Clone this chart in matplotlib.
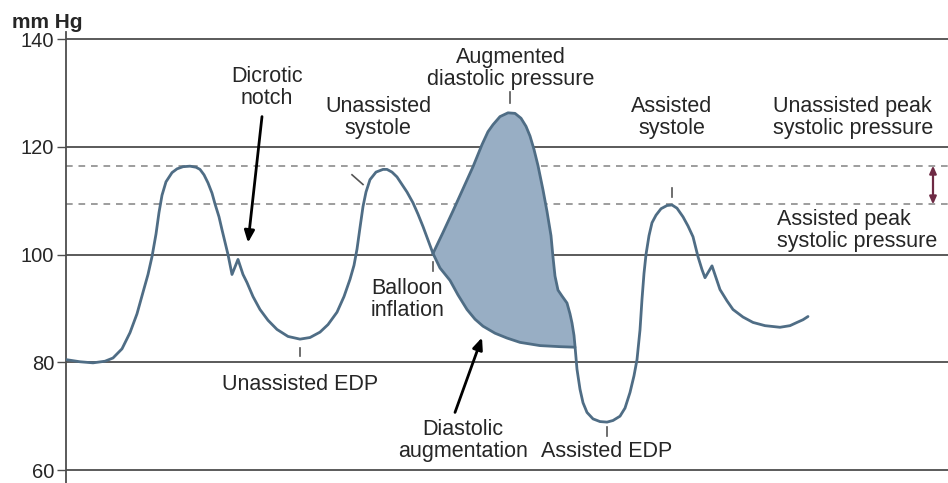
"""
Intra-aortic balloon pump waveform: unassisted vs assisted beats.
Values traced by eye from the reference (x in arbitrary time units).
"""

import numpy as np
import matplotlib
matplotlib.use("Agg")
import matplotlib.pyplot as plt

plt.rcParams['font.family'] = ['Liberation Sans', 'DejaVu Sans']

#---------------------------------------------------
# traced pressure curve (mm Hg)
# unassisted beats up to balloon inflation
t_unassist = [0, 14, 27, 39, 47, 56, 64, 71, 77, 82, 86, 90, 93, 96, 100, 106,
              111, 117, 124, 130, 134, 138, 142, 146, 149, 153, 156, 162, 166,
              172, 177, 181, 187, 194, 202, 211, 222, 234, 244, 254, 262, 271,
              278, 284, 288, 291, 294, 297, 300, 304, 310, 317, 321, 326, 331,
              336, 341, 347, 352, 357, 362, 367]
p_unassist = [80.5, 80.1, 79.9, 80.2, 80.8, 82.5, 85.5, 89, 93, 96.3, 99.6,
              103.8, 107.8, 111, 113.5, 115.2, 115.9, 116.3, 116.4, 116.2, 115.8,
              114.8, 113.3, 111.4, 109.4, 107, 104.6, 100, 96.3, 99.1, 96.3,
              94.8, 92.2, 89.8, 87.8, 86.1, 84.8, 84.3, 84.6, 85.6, 87, 89.3,
              92.2, 95.4, 98, 101, 105, 108.9, 111.6, 113.9, 115.3, 115.8,
              115.8, 115.3, 114.4, 113, 111.6, 109.6, 107.5, 105.2, 102.7, 100.2]

# augmented diastole after inflation, assisted EDP and assisted beat
t_assist = [367, 377, 387, 397, 407, 416, 422, 427, 434, 442, 449, 455, 460,
            464, 468, 472, 477, 481, 485, 487, 489, 492, 496, 501, 504, 506,
            508, 509, 511, 514, 517, 521, 527, 534, 541, 547, 554, 559, 564,
            568, 571, 574, 576, 578, 580, 583, 586, 590, 595, 601, 606, 611,
            617, 622, 627, 632, 636, 639, 646, 650, 654, 661, 667, 677, 687,
            699, 714, 724, 731, 737, 742]
p_assist = [100.2, 104.1, 108.1, 112.2, 116.3, 120.4, 122.8, 124.1, 125.6,
            126.3, 126.2, 125.3, 123.8, 122, 119.5, 116.5, 112, 108, 103.5,
            99.5, 96, 93.4, 92.3, 91, 89, 87.3, 85, 83, 78.7, 75, 72.5, 70.7,
            69.5, 69, 68.9, 69.2, 70, 71.5, 74.4, 77.5, 80.5, 86, 91.7, 96.5,
            100, 103.5, 105.9, 107.3, 108.5, 109.1, 109.2, 108.6, 107, 105.3,
            103.3, 99.6, 97.2, 95.7, 97.9, 95.7, 93.5, 91.4, 89.8, 88.4, 87.4,
            86.8, 86.5, 86.8, 87.4, 87.9, 88.5]

# diastolic decay that would have happened without the balloon
t_decay = [367, 374, 384, 392, 401, 409, 417, 429, 441, 454, 474, 494, 509]
p_decay = [100.2, 97.5, 95.2, 92.5, 89.8, 88, 86.7, 85.4, 84.5, 83.7, 83.1,
           82.9, 82.8]

peak_unassisted = 116.5
peak_assisted = 109.3

yticks = [60, 80, 100, 120, 140]

curve_col = "#4f6d85"
fill_col = "#98aec4"
grid_col = "#4d4d4d"
text_col = "#262626"

#---------------------------------------------------
fig = plt.figure(figsize=(9.48, 4.83), dpi=100)
ax = fig.add_axes([66/948., 0.0, 882/948., 451/483.])

for y in yticks:
  ax.axhline(y, color=grid_col, lw=1.3, zorder=1)
for y in (peak_unassisted, peak_assisted):
  ax.axhline(y, color="#8c8c8c", lw=1.2, ls=(0, (4, 3.5)), zorder=1)

# shaded diastolic augmentation, closes where the decay line ends
close_at = t_assist.index(t_decay[-1])
xs = np.concatenate([t_assist[:close_at+1], t_decay[::-1]])
ys = np.concatenate([p_assist[:close_at+1], p_decay[::-1]])
ax.fill(xs, ys, color=fill_col, lw=0, zorder=2)

kw = dict(color=curve_col, lw=2.0, solid_joinstyle="round",
          solid_capstyle="round", zorder=3)
ax.plot(t_unassist, p_unassist, **kw)
ax.plot(t_assist, p_assist, **kw)
ax.plot(t_decay, p_decay, **kw)

# little pointer ticks next to the curve
tk = dict(color="#555555", lw=1.2, zorder=3)
ax.plot([234, 234], [81.2, 82.6], **tk)
ax.plot([444, 444], [128.2, 130.2], **tk)
ax.plot([367, 367], [96.9, 98.7], **tk)
ax.plot([541, 541], [66.3, 68.0], **tk)
ax.plot([606, 606], [110.6, 112.3], **tk)
ax.plot([286, 297], [114.8, 113.0], **tk)

fs = 15.5
txt = dict(fontsize=fs, color=text_col, linespacing=1.05, va="center")
ax.text(201, 131.0, "Dicrotic\nnotch", ha="center", multialignment="center", **txt)
ax.text(312, 125.5, "Unassisted\nsystole", ha="center", multialignment="center", **txt)
ax.text(445, 134.5, "Augmented\ndiastolic pressure", ha="center", multialignment="center", **txt)
ax.text(606, 125.5, "Assisted\nsystole", ha="center", multialignment="center", **txt)
ax.text(707, 125.4, "Unassisted peak\nsystolic pressure", ha="left", **txt)
ax.text(711, 104.4, "Assisted peak\nsystolic pressure", ha="left", **txt)
ax.text(305, 91.7, "Balloon\ninflation", ha="left", **txt)
ax.text(234, 75.9, "Unassisted EDP", ha="center", **txt)
ax.text(397, 65.5, "Diastolic\naugmentation", ha="center", multialignment="center", **txt)
ax.text(541, 63.5, "Assisted EDP", ha="center", **txt)

arr = dict(arrowstyle="-|>,head_length=0.7,head_width=0.3", color="black", lw=2.0,
           shrinkA=0, shrinkB=0)
ax.annotate("", xy=(182, 102.2), xytext=(196, 125.6), arrowprops=arr)
ax.annotate("", xy=(416, 84.6), xytext=(389, 70.7), arrowprops=arr)
ax.annotate("", xy=(867, peak_unassisted), xytext=(867, peak_assisted),
            arrowprops=dict(arrowstyle="<|-|>,head_length=0.45,head_width=0.2",
                            color="#6e2a44", lw=1.6, shrinkA=0, shrinkB=0))

ax.set_xlim(0, 882)
ax.set_ylim(57.6, 141.3)
ax.set_yticks(yticks)
ax.set_xticks([])
ax.tick_params(axis="y", length=6.5, width=1.0, color=grid_col,
               labelsize=14.5, labelcolor=text_col, pad=2)
for s in ("top", "right", "bottom"):
  ax.spines[s].set_visible(False)
ax.spines["left"].set_color(grid_col)
ax.spines["left"].set_linewidth(1.3)

fig.text(12/948., 1 - 22/483., "mm Hg", fontsize=15, fontweight="bold",
         color=text_col, ha="left", va="center")

fig.savefig("out.png", dpi=100)
plt.close()
